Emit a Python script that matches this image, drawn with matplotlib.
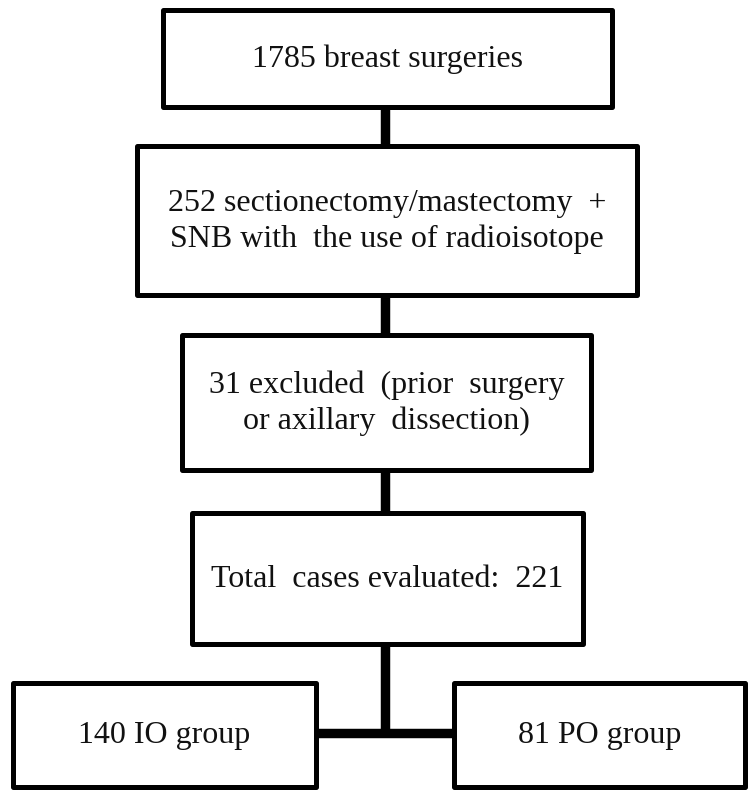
import matplotlib
matplotlib.use("Agg")
import matplotlib.pyplot as plt
from matplotlib.patches import Rectangle

# Flowchart content
box_labels = [
    "1785 breast surgeries",
    "252 sectionectomy/mastectomy  +\nSNB with  the use of radioisotope",
    "31 excluded  (prior  surgery\nor axillary  dissection)",
    "Total  cases evaluated:  221",
]
group_labels = ["140 IO group", "81 PO group"]

# Layout (pixel coordinates, y downward): x0, x1, y0, y1
main_boxes = [
    (163, 612, 10, 107),
    (137, 637, 146, 295),
    (182, 591, 335, 470),
    (192, 583, 513, 644),
]
group_boxes = [
    (13, 316, 683, 787),
    (454, 745, 683, 787),
]
cx = 385
branch_y = 733

fig = plt.figure(figsize=(7.49, 7.90), dpi=100)
ax = fig.add_axes([0, 0, 1, 1])
ax.set_xlim(0, 749)
ax.set_ylim(790, 0)
ax.axis("off")

border_lw = 3.6
conn_lw = 6.8
font = dict(family="Liberation Serif", fontsize=23, color="#111111",
            ha="center", va="center", linespacing=1.3)

def draw_box(b, text):
    x0, x1, y0, y1 = b
    ax.add_patch(Rectangle((x0, y0), x1 - x0, y1 - y0, fill=False,
                           edgecolor="black", linewidth=border_lw,
                           joinstyle="round", zorder=3))
    ax.text((x0 + x1) / 2, (y0 + y1) / 2 + 1, text, **font, zorder=4)

for b, t in zip(main_boxes, box_labels):
    draw_box(b, t)
for b, t in zip(group_boxes, group_labels):
    draw_box(b, t)

# vertical connectors between main boxes
for a, b in zip(main_boxes[:-1], main_boxes[1:]):
    ax.plot([cx, cx], [a[3], b[2]], color="black", lw=conn_lw,
            solid_capstyle="butt", zorder=2)

# bottom branch
ax.plot([cx, cx], [main_boxes[-1][3], branch_y], color="black", lw=conn_lw,
        solid_capstyle="butt", zorder=2)
ax.plot([group_boxes[0][1], group_boxes[1][0]], [branch_y, branch_y],
        color="black", lw=conn_lw, solid_capstyle="butt", zorder=2)

fig.savefig("out.png", dpi=100, facecolor="white")
